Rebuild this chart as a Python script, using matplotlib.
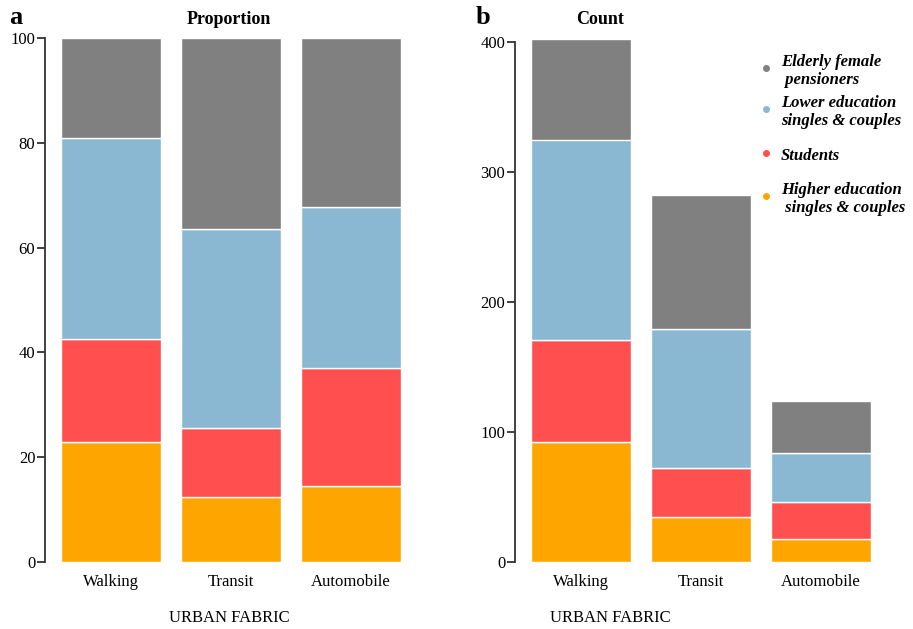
import numpy as np
import matplotlib
matplotlib.use("Agg")
import matplotlib.pyplot as plt
from matplotlib.lines import Line2D

plt.rcParams['font.family'] = ['Liberation Serif', 'DejaVu Serif']

fabrics = ['Walking', 'Transit', 'Automobile']
groups = ['Higher education\n singles & couples', 'Students',
          'Lower education\nsingles & couples', 'Elderly female\n pensioners']
colors = ['#FFA500', '#FF4F4F', '#8AB8D3', '#808080']

# counts per segment (bottom to top)
higher_edu = [92, 35, 18]
students = [79, 37, 28]
lower_edu = [154, 107, 38]
elderly = [77, 103, 40]

counts = np.array([higher_edu, students, lower_edu, elderly], dtype=float)
props = counts / counts.sum(axis=0) * 100

fig = plt.figure(figsize=(9.13, 6.29), dpi=100)
W, H = 913, 629
ax1 = fig.add_axes([45 / W, (H - 562) / H, 372 / W, 524 / H])
ax2 = fig.add_axes([515 / W, (H - 562) / H, 372 / W, (405 * 1.3) / H])

x = np.arange(len(fabrics))


def stacked(ax, data):
    bottom = np.zeros(len(fabrics))
    for vals, c in zip(data, colors):
        ax.bar(x, vals, width=0.833, bottom=bottom, color=c,
               edgecolor='white', linewidth=1.0, clip_on=False)
        bottom += vals
    ax.set_xlim(-0.55, 2.55)
    for s in ['top', 'right', 'bottom']:
        ax.spines[s].set_visible(False)
    ax.spines['left'].set_color('#333333')
    ax.spines['left'].set_linewidth(1.3)
    ax.tick_params(axis='y', length=6, width=1.3, color='#333333',
                   labelsize=12, pad=1)
    ax.tick_params(axis='x', length=0, labelsize=12, pad=9)
    ax.set_xticks(x)
    ax.set_xticklabels(fabrics)


stacked(ax1, props)
ax1.set_ylim(0, 100)
ax1.set_yticks([0, 20, 40, 60, 80, 100])
ax1.spines['left'].set_bounds(0, 100)

stacked(ax2, counts)
ax2.set_ylim(0, 405)
ax2.set_yticks([0, 100, 200, 300, 400])
ax2.spines['left'].set_bounds(0, 400)

fig.text(9 / W, 1 - 17 / H, 'a', fontsize=19, fontweight='bold', va='center')
fig.text(476 / W, 1 - 17 / H, 'b', fontsize=19, fontweight='bold', va='center')
fig.text(229 / W, 1 - 19 / H, 'Proportion', fontsize=13, fontweight='bold',
         ha='center', va='center')
fig.text(600 / W, 1 - 19 / H, 'Count', fontsize=13, fontweight='bold',
         ha='center', va='center')
fig.text(229 / W, 1 - 618 / H, 'URBAN FABRIC', fontsize=12, ha='center', va='center')
fig.text(610 / W, 1 - 618 / H, 'URBAN FABRIC', fontsize=12, ha='center', va='center')

# legend, top to bottom
leg_y = [71, 112, 156, 199]
for lab, c, yy in zip(groups[::-1], colors[::-1], leg_y):
    fig.text(781 / W, 1 - yy / H, lab, fontsize=12, fontweight='bold',
             fontstyle='italic', va='center', ha='left', linespacing=1.15)
    fig.add_artist(Line2D([766 / W], [1 - (yy - 3) / H], marker='o',
                          markersize=4, color=c, linestyle='none',
                          transform=fig.transFigure))

fig.savefig('out.png', dpi=100)
